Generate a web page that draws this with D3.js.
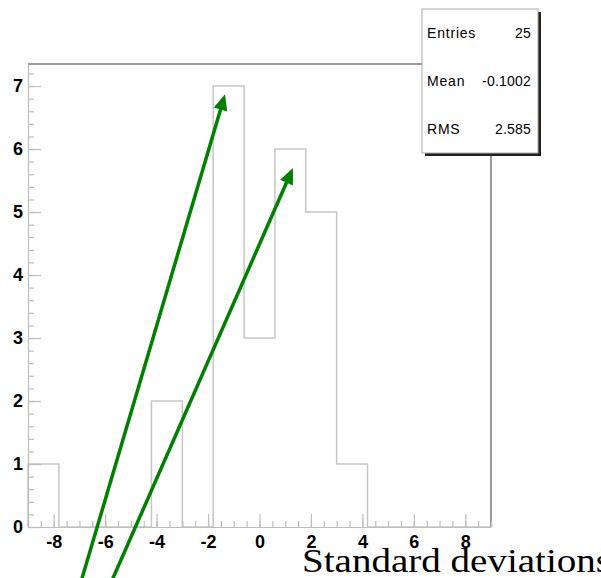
<!DOCTYPE html>
<html>
<head>
<meta charset="utf-8">
<script src="https://cdn.jsdelivr.net/npm/d3@7"></script>
<style>
  html, body { margin: 0; padding: 0; background: #fff; }
  svg { display: block; }
</style>
</head>
<body>
<div id="chart"></div>
<script>
// Histogram: 15 bins between -9 and 9
const xRange = [-9, 9];
const binCounts = [1, 0, 0, 0, 2, 0, 7, 3, 6, 5, 1, 0, 0, 0, 0];
const xTickLabels = [-8, -6, -4, -2, 0, 2, 4, 6, 8];
const yTickLabels = [0, 1, 2, 3, 4, 5, 6, 7];

// Stats box
const statNames = ["Entries", "Mean", "RMS"];
const statValues = ["25", "-0.1002", "2.585"];

// Green annotation arrows (data coords): tail -> tip
const arrowTails = [[-7.15, -1.16], [-6.07, -1.16]];
const arrowTips = [[-1.34, 6.87], [1.30, 5.70]];

const width = 601, height = 578;
const plot = { left: 28, right: 491, top: 64, bottom: 527 };

const svg = d3.select("#chart").append("svg")
  .attr("width", width)
  .attr("height", height);

// Scales (y max is 1.05 * highest bin, as ROOT does)
const x = d3.scaleLinear().domain(xRange).range([plot.left, plot.right]);
const y = d3.scaleLinear().domain([0, d3.max(binCounts) * 1.05]).range([plot.bottom, plot.top]);

const binWidth = (xRange[1] - xRange[0]) / binCounts.length;

// Step outline of the histogram
const pts = [[xRange[0], 0]];
binCounts.forEach((c, i) => {
  const lo = xRange[0] + i * binWidth;
  pts.push([lo, c], [lo + binWidth, c]);
});
pts.push([xRange[1], 0]);

svg.append("path")
  .attr("d", d3.line().x(d => x(d[0])).y(d => y(d[1]))(pts))
  .attr("fill", "none")
  .attr("stroke", "#c6c6c6")
  .attr("stroke-width", 1.5);

// Frame top and right
svg.append("path")
  .attr("d", `M${plot.left},${plot.top}H${plot.right}V${plot.bottom}`)
  .attr("fill", "none")
  .attr("stroke", "#9c9c9c")
  .attr("stroke-width", 2);

// X axis: minor ticks then major ticks
const xMinor = d3.range(-9, 9.01, 0.5);
svg.append("g")
  .attr("transform", `translate(0,${plot.bottom})`)
  .call(d3.axisBottom(x).tickValues(xMinor).tickSize(-6).tickSizeOuter(0).tickFormat(""))
  .call(g => g.select(".domain").remove());

svg.append("g")
  .attr("transform", `translate(0,${plot.bottom})`)
  .call(d3.axisBottom(x).tickValues(xTickLabels).tickSize(-13).tickSizeOuter(0)
    .tickPadding(8).tickFormat(d => String(d)));

// Y axis
const yMinor = d3.range(0, 7.3, 0.2);
svg.append("g")
  .attr("transform", `translate(${plot.left},0)`)
  .call(d3.axisLeft(y).tickValues(yMinor).tickSize(-6).tickSizeOuter(0).tickFormat(""))
  .call(g => g.select(".domain").remove());

svg.append("g")
  .attr("transform", `translate(${plot.left},0)`)
  .call(d3.axisLeft(y).tickValues(yTickLabels).tickSize(-13).tickSizeOuter(0)
    .tickPadding(5).tickFormat(d => String(d)));

svg.selectAll(".domain, .tick line")
  .attr("stroke", "#bdbdbd")
  .attr("stroke-width", 1.2);

svg.selectAll(".tick text")
  .attr("fill", "#000")
  .style("font-family", "'Liberation Sans', Arial, sans-serif")
  .style("font-weight", "bold")
  .style("font-size", "18px");

// Axis title
svg.append("text")
  .attr("x", 302)
  .attr("y", 572)
  .attr("textLength", 309)
  .attr("lengthAdjust", "spacingAndGlyphs")
  .style("font-family", "'Liberation Serif', 'Times New Roman', serif")
  .style("font-size", "33px")
  .text("Standard deviations");

// Stats box with shadow
const box = { x: 422, y: 9, w: 116, h: 144 };
svg.append("rect")
  .attr("x", box.x + 3).attr("y", box.y + 3)
  .attr("width", box.w).attr("height", box.h)
  .attr("fill", "#222");
svg.append("rect")
  .attr("x", box.x).attr("y", box.y)
  .attr("width", box.w).attr("height", box.h)
  .attr("fill", "#fff")
  .attr("stroke", "#aaa");

statNames.forEach((name, i) => {
  const yy = 38 + i * 48;
  svg.append("text")
    .attr("x", box.x + 5).attr("y", yy)
    .style("font-family", "'Liberation Sans', Arial, sans-serif")
    .style("font-size", "14px")
    .style("letter-spacing", "0.8px")
    .text(name);
  svg.append("text")
    .attr("x", box.x + box.w - 7).attr("y", yy)
    .attr("text-anchor", "end")
    .style("font-family", "'Liberation Sans', Arial, sans-serif")
    .style("font-size", "14px")
    .style("letter-spacing", "0.2px")
    .text(statValues[i]);
});

// Arrows
const headLen = 16, headHalf = 7;
arrowTips.forEach((tip, i) => {
  const tx = x(tip[0]), ty = y(tip[1]);
  const sx = x(arrowTails[i][0]), sy = y(arrowTails[i][1]);
  const len = Math.hypot(tx - sx, ty - sy);
  const ux = (tx - sx) / len, uy = (ty - sy) / len;
  const bx = tx - ux * headLen, by = ty - uy * headLen;
  svg.append("line")
    .attr("x1", sx).attr("y1", sy)
    .attr("x2", bx + ux * 2).attr("y2", by + uy * 2)
    .attr("stroke", "#008000")
    .attr("stroke-width", 3.5);
  svg.append("path")
    .attr("d", `M${tx},${ty}L${bx - uy * headHalf},${by + ux * headHalf}L${bx + uy * headHalf},${by - ux * headHalf}Z`)
    .attr("fill", "#008000");
});
</script>
</body>
</html>
